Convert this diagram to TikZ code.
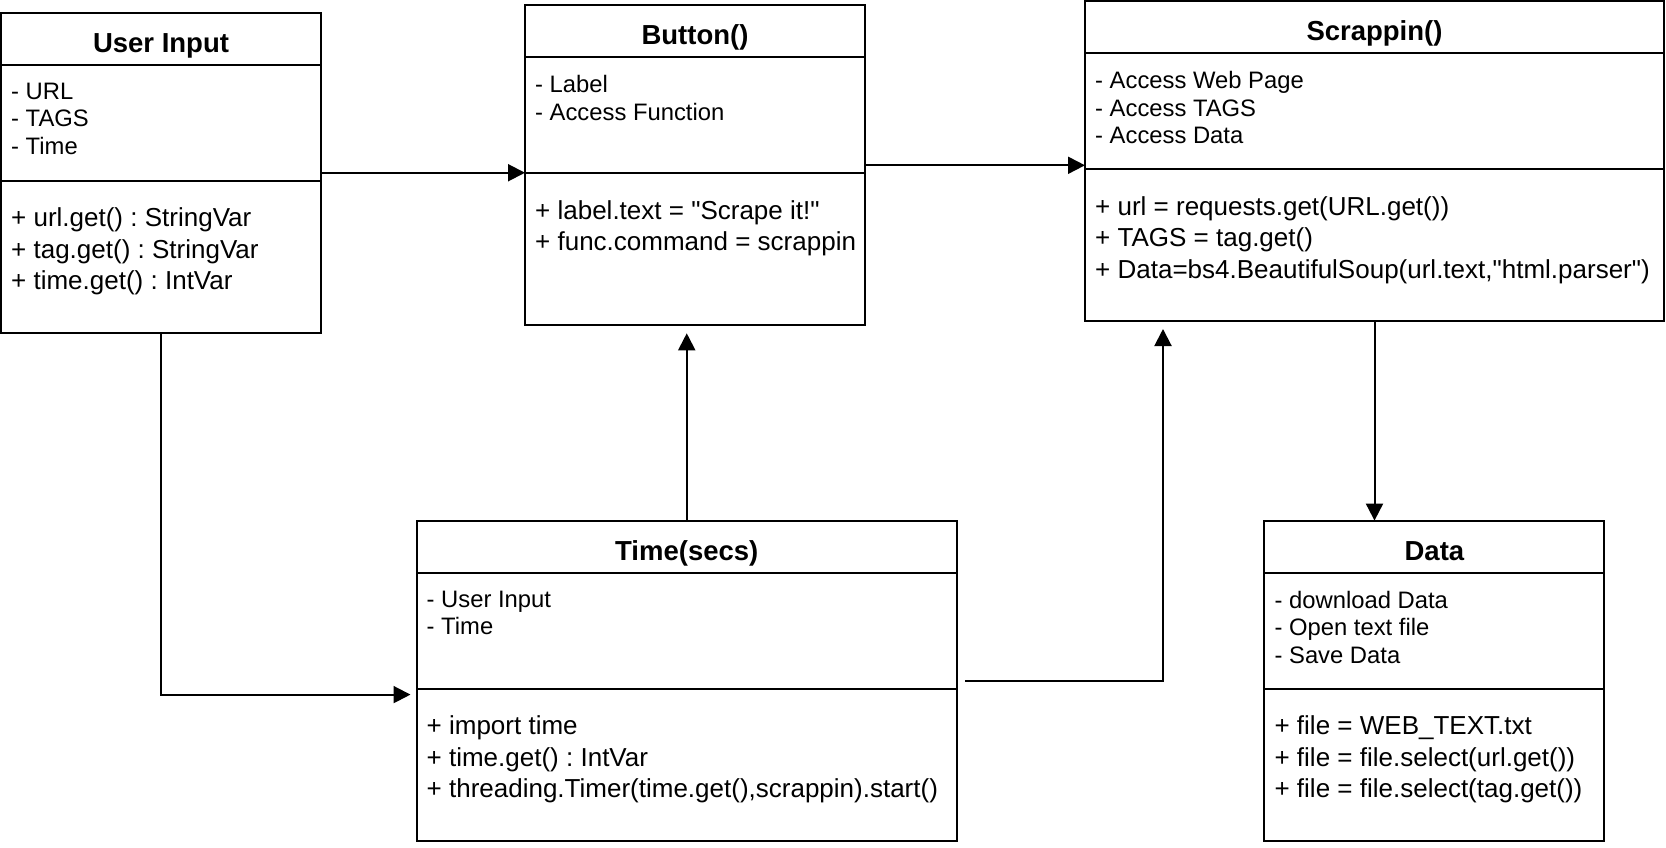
\documentclass[tikz,border=0pt]{standalone}
\usepackage{fontspec}
\setmainfont{Liberation Sans}[Ligatures=TeXOff]
\usetikzlibrary{arrows.meta,calc}
\frenchspacing

\begin{document}
\begin{tikzpicture}[x=1pt, y=-1pt]
        \tikzstyle{cls} = [draw, rectangle, line width=2pt, minimum height=320pt, anchor=north west, inner sep=0pt, outer sep=0pt]
        \tikzstyle{ttl} = [anchor=base, inner sep=0pt, font=\bfseries\fontsize{27.5}{30}\selectfont]
        \tikzstyle{attr} = [anchor=north west, align=left, inner sep=0pt, font=\fontsize{23.8}{27.6}\selectfont]
        \tikzstyle{meth} = [anchor=north west, align=left, inner sep=0pt, font=\fontsize{26}{31.5}\selectfont]
        \tikzstyle{sep} = [line width=2pt]
        \tikzstyle{conn} = [line width=2pt, -{Triangle[length=17pt,width=17pt]}]
        \useasboundingbox (0,0) rectangle (1666,848);
        % class boxes
        \node[cls, minimum width=320pt] (ui) at (1, 12.75) {};
        \node[cls, minimum width=340pt] (btn) at (525, 5.3) {};
        \node[cls, minimum width=579pt] (scr) at (1085, 1) {};
        \node[cls, minimum width=540.5pt] (tim) at (416.5, 520.6) {};
        \node[cls, minimum width=340pt] (dat) at (1264.4, 520.6) {};
        % compartments
        \foreach \c in {ui, btn, scr, tim, dat} {
          \draw[sep] ($(\c.north west)+(0,52)$) -- ($(\c.north east)+(0,52)$);
          \draw[sep] ($(\c.north west)+(0,168)$) -- ($(\c.north east)+(0,168)$);
        }
        % titles
        \node[ttl] (uiT) at ($(ui.north)+(0,39.5)$) {User Input};
        \node[ttl] (btnT) at ($(btn.north)+(0,39.5)$) {Button()};
        \node[ttl] (scrT) at ($(scr.north)+(0,39.5)$) {Scrappin()};
        \node[ttl] (timT) at ($(tim.north)+(0,39.5)$) {Time(secs)};
        \node[ttl] (datT) at ($(dat.north)+(0,39.5)$) {Data};
        % attributes
        \node[attr] (uiA) at ($(ui.north west)+(10,70)$) {- URL\\- TAGS\\- Time};
        \node[attr] (btnA) at ($(btn.north west)+(10,70)$) {- Label\\- Access Function};
        \node[attr] (scrA) at ($(scr.north west)+(10,70)$) {- Access Web Page\\- Access TAGS\\- Access Data};
        \node[attr] (timA) at ($(tim.north west)+(10,70)$) {- User Input\\- Time};
        \node[attr] (datA) at ($(dat.north west)+(10,70)$) {- download Data\\- Open text file\\- Save Data};
        % methods
        \node[meth] (uiM) at ($(ui.north west)+(10,195)$) {+ url.get() : StringVar\\+ tag.get() : StringVar\\+ time.get() : IntVar};
        \node[meth] (btnM) at ($(btn.north west)+(10,195)$) {+ label.text = "Scrape it!"\\+ func.command = scrappin};
        \node[meth] (scrM) at ($(scr.north west)+(10,195)$) {+ url = requests.get(URL.get())\\+ TAGS = tag.get()\\+ Data=bs4.BeautifulSoup(url.text,"html.parser")};
        \node[meth] (timM) at ($(tim.north west)+(10,195)$) {+ import time\\+ time.get() : IntVar\\+ threading.Timer(time.get(),scrappin).start()};
        \node[meth] (datM) at ($(dat.north west)+(10,195)$) {+ file = WEB\_TEXT.txt\\+ file = file.select(url.get())\\+ file = file.select(tag.get())};
        % free ends of the connectors
        \coordinate (timIn) at ($(tim.west)+(-6,14)$);
        \coordinate (btnIn) at ($(tim.north |- btn.south)+(0,8)$);
        \coordinate (timOut) at ($(tim.east)+(8,0)$);
        \coordinate (scrIn) at ($(scr.south west)+(78,8)$);
        % connectors
        \draw[conn] (ui.east) -- (ui.east -| btn.west);
        \draw[conn] (btn.east) -- (btn.east -| scr.west);
        \draw[conn] (ui.south) |- (timIn);
        \draw[conn] (tim.north) -- (btnIn);
        \draw[conn] (timOut) -| (scrIn);
        \draw[conn] (scr.south) -- (scr.south |- dat.north);
      \end{tikzpicture}
\end{document}
